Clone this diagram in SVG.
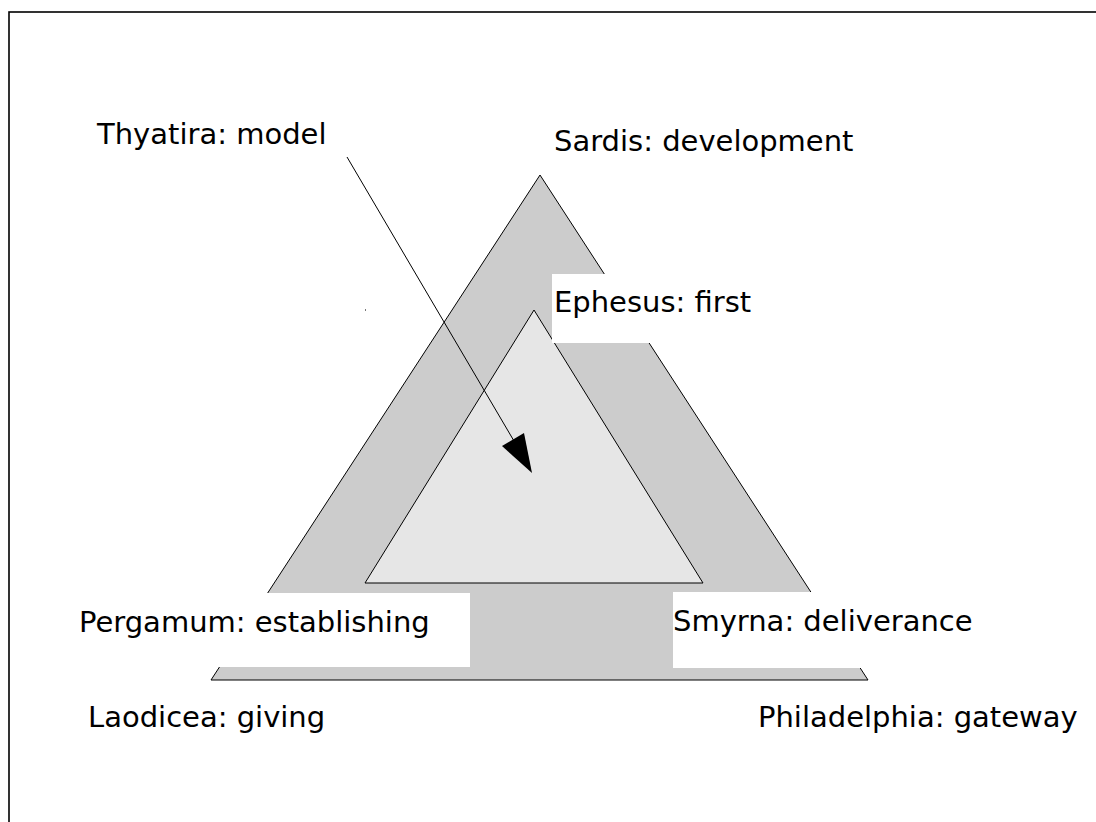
<svg xmlns="http://www.w3.org/2000/svg" width="1096" height="822" viewBox="0 0 1096 822">
  <style>
    .label { font-family: "DejaVu Sans", "Liberation Sans", sans-serif; font-size: 29px; fill: #000000; }
    .mask { fill: #ffffff; stroke: none; }
    .edge { stroke: #000000; stroke-width: 1; }
  </style>
  <rect x="0" y="0" width="1096" height="822" fill="#ffffff"/>
  <!-- page frame -->
  <rect x="9" y="12" width="1200" height="1000" fill="none" stroke="#000000" stroke-width="1.6"/>

  <g id="outer-triangle">
    <polygon points="540,175 211,680 868,680" fill="#cccccc" class="edge"/>
  </g>
  <g id="inner-triangle">
    <polygon points="534,310 365,583 703,583" fill="#e6e6e6" class="edge"/>
  </g>
  <rect x="365" y="309" width="1" height="2" fill="#777777"/>

  <g id="connectors">
    <line x1="347" y1="157" x2="514" y2="441" stroke="#000000" stroke-width="1"/>
    <polygon points="502,446 524,433 532,473" fill="#000000"/>
  </g>

  <g id="thyatira">
    <text class="label" x="97" y="144">Thyatira: model</text>
  </g>
  <g id="sardis">
    <text class="label" x="554" y="151">Sardis: development</text>
  </g>
  <g id="ephesus">
    <rect class="mask" x="552" y="274" width="210" height="69"/>
    <text class="label" x="554" y="312">Ephesus: first</text>
  </g>
  <g id="pergamum">
    <rect class="mask" x="70" y="593" width="400" height="74"/>
    <text class="label" x="79" y="632">Pergamum: establishing</text>
  </g>
  <g id="smyrna">
    <rect class="mask" x="673" y="592" width="310" height="76"/>
    <text class="label" x="673" y="631">Smyrna: deliverance</text>
  </g>
  <g id="laodicea">
    <text class="label" x="88" y="727">Laodicea: giving</text>
  </g>
  <g id="philadelphia">
    <text class="label" x="758" y="727">Philadelphia: gateway</text>
  </g>
</svg>
